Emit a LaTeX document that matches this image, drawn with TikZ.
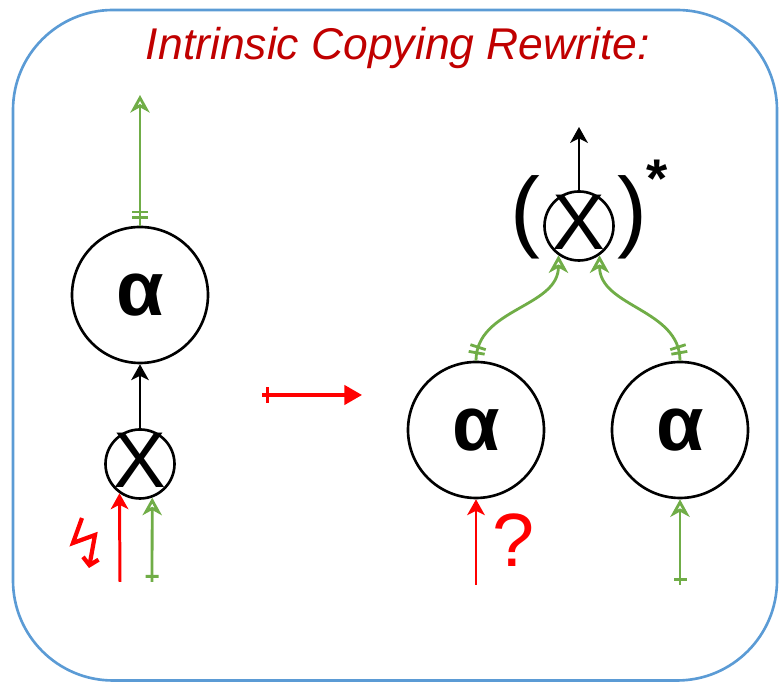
\documentclass[tikz,border=0pt]{standalone}
\usepackage{fontspec}
\setmainfont{Liberation Sans}
\usetikzlibrary{arrows.meta,decorations.markings}

\definecolor{frameblue}{RGB}{91,155,213}
\definecolor{titlered}{RGB}{192,0,0}
\definecolor{wiregreen}{RGB}{112,173,71}

\begin{document}
\begin{tikzpicture}[
  box/.style={circle,draw,line width=1.5pt,minimum size=2.72cm,inner sep=0pt,
    font=\fontsize{44}{44}\selectfont\bfseries},
  gate/.style={circle,draw,line width=1.5pt,minimum size=1.38cm,inner sep=0pt,
    label={[font=\fontsize{45}{45}\selectfont,inner sep=0pt,yshift=2pt]center:X}},
  wire/.style={color=wiregreen,line width=1.6pt,
    -{Stealth[open,length=10pt,width=11pt,inset=3pt]}},
  hot/.style={color=red,line width=1.7pt,-{Stealth[length=9pt,width=10pt,inset=2.5pt]}},
  flow/.style={line width=1.5pt,-{Stealth[length=9pt,width=10pt,inset=2.5pt]}},
  rewrite/.style={color=red,line width=1.8pt,-{Triangle[length=10pt,width=11pt]}},
  twobar/.style={postaction={decorate},decoration={markings,
    mark=at position 4.5pt with {\draw[-] (0,-4.6pt) -- (0,4.6pt);},
    mark=at position 7.8pt with {\draw[-] (0,-4.6pt) -- (0,4.6pt);}}},
  onebar/.style={postaction={decorate},decoration={markings,
    mark=at position 3.2pt with {\draw[-] (0,-#1) -- (0,#1);}}},
  onebar/.default=3.7pt
]
  \useasboundingbox (0,0) rectangle (15.58,13.66);
  \draw[frameblue,line width=1.5pt,rounded corners=2cm] (0.26,0.05) rectangle (15.54,13.46);

  \node[titlered,anchor=base,font=\fontsize{25.3}{30}\selectfont\itshape] (title)
    at (7.96,12.46) {Intrinsic Copying Rewrite:};

  \node[box] (a1) at (2.8,7.76) {α};
  \node[gate] (x1) at (2.8,4.38) {};
  \node[gate] (x2) at (11.58,9.14) {};
  \node[box] (a2) at (9.52,5.06) {α};
  \node[box] (a3) at (13.6,5.06) {α};

  \node[inner sep=0pt,font=\fontsize{51}{51}\selectfont] (lp) at (10.5,9.32) {(};
  \node[inner sep=0pt,font=\fontsize{51}{51}\selectfont] (rp) at (12.64,9.32) {)};
  \node[inner sep=0pt,anchor=north,font=\fontsize{31}{31}\selectfont\bfseries] (star)
    at (13.14,10.46) {*};
  \node[red,anchor=base,font=\fontsize{43}{43}\selectfont] (what) at (10.28,2.32) {?};

  \coordinate (t1) at (2.8,11.76);
  \coordinate (r1) at (2.4,2.02);
  \coordinate (g1) at (3.04,2.02);
  \coordinate (m1) at (5.24,5.76);
  \coordinate (m2) at (7.24,5.76);
  \coordinate (t2) at (11.58,11.12);
  \coordinate (r2) at (9.52,1.96);
  \coordinate (g2) at (13.6,1.96);

  \path
    (a1) edge[wire,twobar] (t1)
    (x1) edge[flow] (a1)
    (r1) edge[hot] (x1.235)
    (g1) edge[wire,onebar] (x1.290)
    (m1) edge[rewrite,onebar=4.3pt] (m2)
    (x2) edge[flow] (t2)
    (a2) edge[wire,twobar,out=90,in=-90] (x2.235)
    (a3) edge[wire,twobar,out=90,in=-90] (x2.305)
    (r2) edge[hot] (a2)
    (g2) edge[wire,onebar] (a3);

  % lightning bolt
  \draw[red,line width=2.4pt,line join=miter,-{Straight Barb[length=4pt,width=9pt]}]
    (1.64,3.30) -- (1.46,2.80) -- (1.90,2.96) -- (1.78,2.30);
\end{tikzpicture}
\end{document}
